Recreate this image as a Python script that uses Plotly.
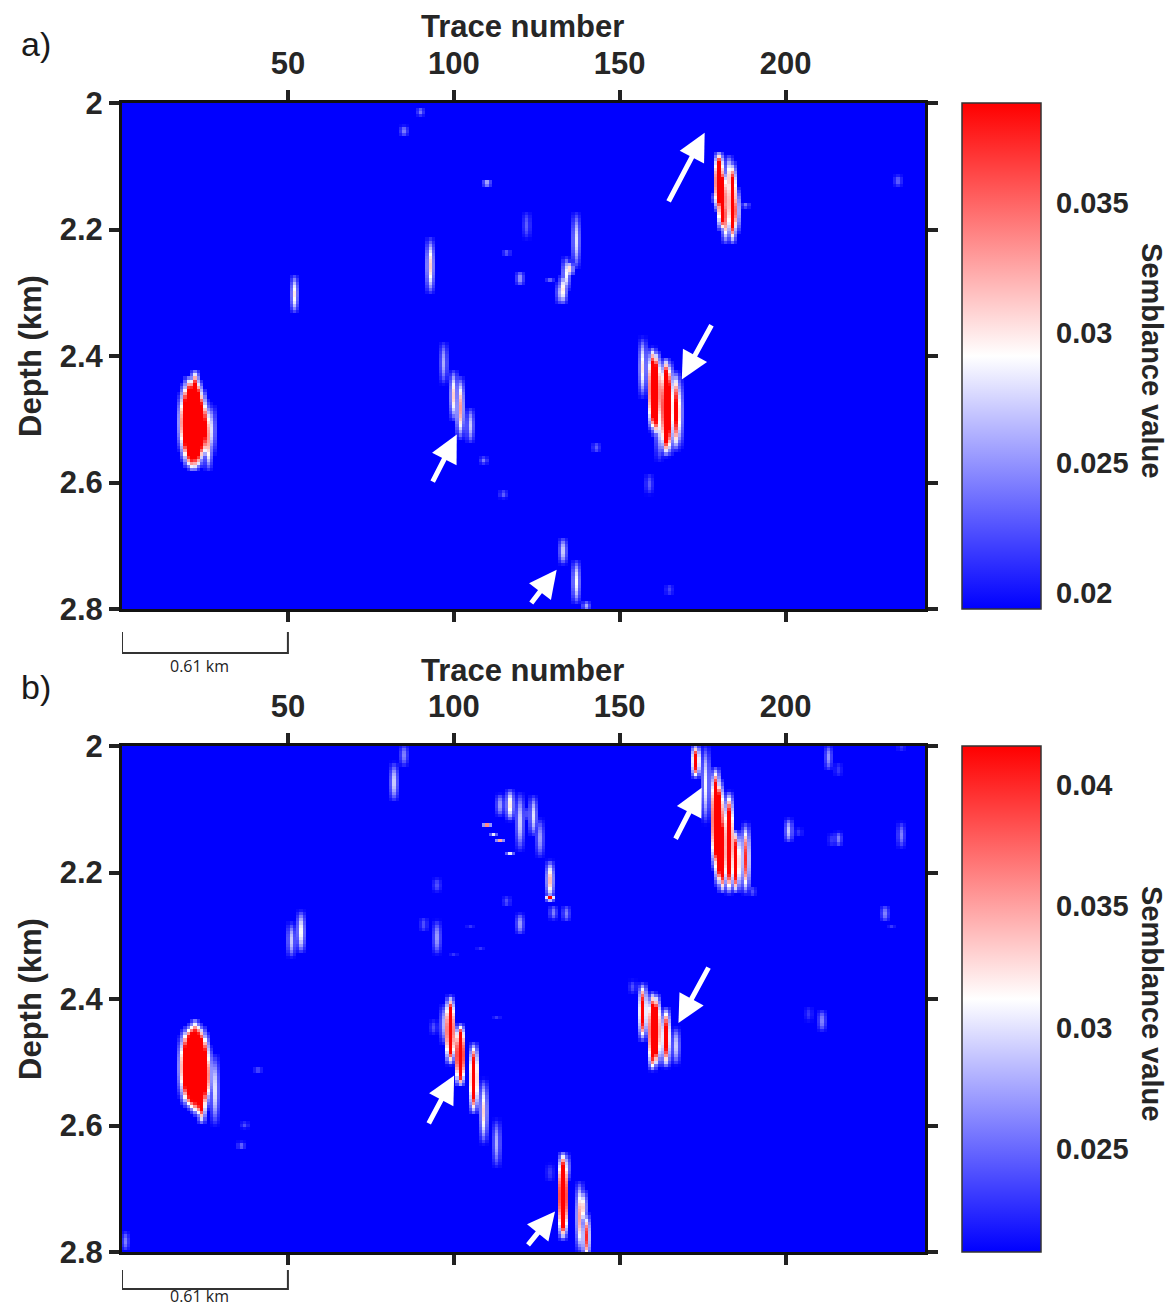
import numpy as np
import plotly.graph_objects as go

# ---------------- data ----------------
traces = np.arange(0, 243)                # trace numbers
depths = np.round(np.arange(2.0, 2.8001, 0.005), 3)  # depth samples (km)

x_ticks = [50, 100, 150, 200]
y_ticks = [2.0, 2.2, 2.4, 2.6, 2.8]
y_ticktext = ["2", "2.2", "2.4", "2.6", "2.8"]

# panel a: semblance anomalies (trace, top depth, bottom depth, peak value)
stripes_a = [
    (18, 2.455, 2.555, 0.033), (19, 2.44, 2.57, 0.048), (20, 2.43, 2.58, 0.062),
    (21, 2.43, 2.585, 0.065), (22, 2.42, 2.585, 0.065), (23, 2.435, 2.58, 0.060),
    (24, 2.45, 2.57, 0.050), (25, 2.465, 2.565, 0.040), (26, 2.47, 2.585, 0.033),
    (27, 2.475, 2.56, 0.028),
    (52, 2.27, 2.335, 0.030), (85, 2.034, 2.054, 0.024), (90, 2.006, 2.022, 0.024),
    (93, 2.21, 2.305, 0.031), (97, 2.375, 2.447, 0.026), (100, 2.42, 2.505, 0.031),
    (102, 2.43, 2.535, 0.033), (105, 2.48, 2.54, 0.027), (109, 2.558, 2.572, 0.024),
    (110, 2.122, 2.132, 0.027), (115, 2.612, 2.626, 0.023), (116, 2.23, 2.244, 0.023),
    (120, 2.265, 2.29, 0.025), (122, 2.17, 2.217, 0.023), (129, 2.275, 2.285, 0.023),
    (132, 2.28, 2.32, 0.026), (133, 2.27, 2.32, 0.030), (134, 2.242, 2.30, 0.029),
    (135, 2.25, 2.275, 0.031), (137, 2.17, 2.265, 0.028), (143, 2.535, 2.555, 0.023),
    (157, 2.368, 2.469, 0.030), (159, 2.585, 2.621, 0.023), (160, 2.384, 2.522, 0.055),
    (161, 2.39, 2.53, 0.055), (162, 2.40, 2.57, 0.030), (164, 2.40, 2.561, 0.060),
    (165, 2.405, 2.56, 0.045), (166, 2.42, 2.53, 0.029), (167, 2.422, 2.553, 0.040),
    (168, 2.43, 2.55, 0.030), (165, 2.76, 2.78, 0.022),
    (133, 2.685, 2.732, 0.027), (137, 2.72, 2.795, 0.029), (140, 2.787, 2.805, 0.026),
    (179, 2.14, 2.16, 0.026), (180, 2.075, 2.175, 0.055), (181, 2.10, 2.205, 0.055),
    (182, 2.13, 2.225, 0.035), (183, 2.08, 2.16, 0.031), (184, 2.09, 2.225, 0.050),
    (185, 2.13, 2.21, 0.035), (188, 2.155, 2.167, 0.024), (234, 2.113, 2.133, 0.023),
]

# panel b
stripes_b = [
    (18, 2.455, 2.56, 0.034), (19, 2.445, 2.57, 0.050), (20, 2.44, 2.575, 0.065),
    (21, 2.435, 2.58, 0.070), (22, 2.43, 2.585, 0.070), (23, 2.435, 2.59, 0.070),
    (24, 2.44, 2.60, 0.065), (25, 2.45, 2.58, 0.050), (26, 2.47, 2.57, 0.036),
    (28, 2.485, 2.603, 0.030),
    (1, 2.767, 2.80, 0.026), (36, 2.624, 2.64, 0.025), (37, 2.593, 2.606, 0.024),
    (41, 2.506, 2.519, 0.024), (51, 2.277, 2.337, 0.029), (54, 2.258, 2.33, 0.031),
    (82, 2.024, 2.09, 0.029), (85, 1.995, 2.034, 0.026), (91, 2.27, 2.295, 0.024),
    (94, 2.432, 2.458, 0.024), (95, 2.208, 2.232, 0.024), (95, 2.274, 2.332, 0.027),
    (97, 2.406, 2.474, 0.028), (99, 2.393, 2.506, 0.060), (100, 2.327, 2.335, 0.023),
    (102, 2.437, 2.54, 0.065), (105, 2.282, 2.29, 0.023), (106, 2.466, 2.585, 0.050),
    (108, 2.317, 2.325, 0.023), (109, 2.524, 2.632, 0.033), (110, 2.12, 2.13, 0.036),
    (112, 2.135, 2.143, 0.031), (114, 2.147, 2.155, 0.036), (114, 2.074, 2.113, 0.027),
    (113, 2.588, 2.669, 0.028), (113, 2.425, 2.435, 0.023), (116, 2.237, 2.255, 0.024),
    (117, 2.066, 2.121, 0.032), (117, 2.165, 2.173, 0.031), (120, 2.071, 2.169, 0.029),
    (120, 2.263, 2.30, 0.027), (122, 2.095, 2.12, 0.024), (124, 2.076, 2.145, 0.030),
    (126, 2.113, 2.179, 0.027), (129, 2.179, 2.245, 0.034), (129, 2.236, 2.246, 0.045),
    (130, 2.25, 2.277, 0.026), (134, 2.25, 2.28, 0.026),
    (154, 2.369, 2.393, 0.024), (157, 2.372, 2.469, 0.045), (160, 2.387, 2.516, 0.060),
    (161, 2.39, 2.51, 0.055), (164, 2.411, 2.511, 0.045), (167, 2.443, 2.506, 0.029),
    (173, 1.995, 2.053, 0.045), (176, 1.995, 2.126, 0.031), (179, 2.03, 2.20, 0.060),
    (180, 2.05, 2.225, 0.065), (181, 2.10, 2.235, 0.055), (183, 2.069, 2.237, 0.055),
    (185, 2.13, 2.235, 0.050), (188, 2.119, 2.237, 0.040), (190, 2.22, 2.24, 0.024),
    (201, 2.113, 2.155, 0.029), (204, 2.128, 2.145, 0.023), (207, 2.411, 2.437, 0.023),
    (211, 2.416, 2.453, 0.026), (213, 1.995, 2.04, 0.027), (214, 2.137, 2.16, 0.023),
    (216, 2.134, 2.16, 0.026), (216, 2.025, 2.05, 0.023), (230, 2.25, 2.28, 0.026),
    (232, 2.281, 2.289, 0.023), (235, 2.119, 2.163, 0.026), (235, 1.995, 2.008, 0.023),
    (129, 2.659, 2.69, 0.023), (133, 2.64, 2.783, 0.065), (134, 2.643, 2.69, 0.030),
    (138, 2.685, 2.805, 0.035), (139, 2.70, 2.76, 0.033), (140, 2.737, 2.815, 0.040),
]

range_a = (0.01938, 0.03885)
range_b = (0.02075, 0.0416)
cbar_ticks_a = [0.02, 0.025, 0.03, 0.035]
cbar_ticks_b = [0.025, 0.03, 0.035, 0.04]

# arrows: (head trace, head depth, tail trace, tail depth)
arrows_a = [(175.6, 2.047, 164.5, 2.158), (168.7, 2.437, 177.9, 2.349),
            (100.9, 2.524, 93.4, 2.601), (131.0, 2.738, 123.0, 2.793)]
arrows_b = [(174.7, 2.066, 166.6, 2.149), (167.7, 2.438, 177.0, 2.348),
            (100.1, 2.521, 92.2, 2.599), (130.5, 2.736, 122.0, 2.791)]

SIDE = 0.4  # fraction of a stripe's strength bleeding into adjacent traces


def build(stripes, bg):
    z = np.full((len(depths), len(traces)), bg)
    for tr, top, bot, peak in stripes:
        t = (depths - top) / (bot - top)
        m = (t >= 0) & (t <= 1)
        v = (peak - bg) * np.sin(np.pi * t[m])
        col = int(np.where(traces == tr)[0][0])
        for c, f in [(col, 1.0), (col - 1, SIDE), (col + 1, SIDE)]:
            if 0 <= c < len(traces):
                z[m, c] = np.maximum(z[m, c], bg + f * v)
    return z


z_a = build(stripes_a, range_a[0])
z_b = build(stripes_b, range_b[0])

# ---------------- figure ----------------
# page body has an 8 px margin, so the figure is 16 px smaller and offset by 8 px
OFF = 8
W, H = 1176 - 2 * OFF, 1316 - 2 * OFF
def px(p):  # page pixel from left -> paper x
    return (p - OFF) / W
def py(p):  # page pixel from top -> paper y
    return 1 - (p - OFF) / H

bwr = [[0, "rgb(0,0,255)"], [0.5, "rgb(255,255,255)"], [1, "rgb(255,0,0)"]]
TXT = "#262626"
FAM = "Liberation Sans, Arial, sans-serif"
bold = dict(family=FAM, size=31, color=TXT, weight="bold")
bold_cb = dict(family=FAM, size=29, color=TXT, weight="bold")

fig = go.Figure()

for i, (z, rng, ticks, ytop) in enumerate([(z_a, range_a, cbar_ticks_a, 103),
                                            (z_b, range_b, cbar_ticks_b, 746)]):
    xa = "x" if i == 0 else "x2"
    ya = "y" if i == 0 else "y2"
    fig.add_trace(go.Heatmap(
        x=traces, y=depths, z=z, zmin=rng[0], zmax=rng[1], colorscale=bwr,
        zsmooth=False, xaxis=xa, yaxis=ya,
        colorbar=dict(
            x=px(962), xanchor="left", xpad=0, ypad=0,
            y=py(ytop + 253), yanchor="middle",
            thicknessmode="pixels", thickness=79,
            lenmode="pixels", len=506,
            outlinecolor="#333333", outlinewidth=1.5,
            tickvals=ticks, ticktext=[f"{t:g}" for t in ticks],
            ticks="outside", ticklen=9, tickwidth=1, tickcolor="rgba(0,0,0,0)",
            tickfont=bold_cb,
        ),
    ))

xdom = [px(122), px(925)]
axis_common = dict(showline=True, linewidth=3, linecolor="#111111", mirror="allticks",
                   ticks="outside", ticklen=10, tickwidth=4, tickcolor="#222222",
                   showgrid=False, zeroline=False, tickfont=bold, automargin=False)

fig.update_layout(
    template="none",
    width=W, height=H, margin=dict(l=0, r=0, t=0, b=0, pad=0), autosize=False,
    paper_bgcolor="white", plot_bgcolor="white", showlegend=False,
    xaxis=dict(domain=xdom, range=[0, 242], side="top", tickvals=x_ticks,
               anchor="y", ticklabelstandoff=4, **axis_common),
    yaxis=dict(domain=[py(609), py(103)], range=[2.8, 2.0], tickvals=y_ticks,
               ticktext=y_ticktext, anchor="x", ticklabelstandoff=0, **axis_common),
    xaxis2=dict(domain=xdom, range=[0, 242], side="top", tickvals=x_ticks,
                anchor="y2", ticklabelstandoff=4, **axis_common),
    yaxis2=dict(domain=[py(1252), py(746)], range=[2.8, 2.0], tickvals=y_ticks,
                ticktext=y_ticktext, anchor="x2", ticklabelstandoff=0, **axis_common),
)

# small inward ticks on the right edge of each colour bar
for ticks, rng, ytop in [(cbar_ticks_a, range_a, 103), (cbar_ticks_b, range_b, 746)]:
    for t in ticks:
        yy = py(ytop + 506 * (rng[1] - t) / (rng[1] - rng[0]))
        fig.add_shape(type="line", xref="paper", yref="paper",
                      x0=px(1035), x1=px(1041), y0=yy, y1=yy,
                      line=dict(color="#333333", width=1.5))

# arrows
for arrows, xr, yr in [(arrows_a, "x", "y"), (arrows_b, "x2", "y2")]:
    for hx, hy, tx, ty in arrows:
        fig.add_annotation(x=hx, y=hy, ax=tx, ay=ty, xref=xr, yref=yr, axref=xr, ayref=yr,
                           showarrow=True, arrowhead=2, arrowsize=1.1, arrowwidth=5,
                           arrowcolor="white", text="", standoff=0)

# titles and labels
for off, lab in [(0, "a)"), (643, "b)")]:
    fig.add_annotation(x=px(522), y=py(27 + off), xref="paper", yref="paper",
                       text="Trace number", showarrow=False, font=bold,
                       xanchor="center", yanchor="middle")
    fig.add_annotation(x=px(30), y=py(356 + off), xref="paper", yref="paper",
                       text="Depth (km)", showarrow=False, font=bold, textangle=-90,
                       xanchor="center", yanchor="middle")
    fig.add_annotation(x=px(1152), y=py(360 + off), xref="paper", yref="paper",
                       text="Semblance value", showarrow=False, font=bold_cb, textangle=90,
                       xanchor="center", yanchor="middle")
    fig.add_annotation(x=px(36), y=py(44 + off), xref="paper", yref="paper",
                       text=lab, showarrow=False,
                       font=dict(family=FAM, size=34, color="#1a1a1a"),
                       xanchor="center", yanchor="middle")

# scale bars (trace 0 to 50)
for xr, ytop_px, ybot_px, ytext_px in [("x", 632, 653, 666), ("x2", 1270, 1289, 1296)]:
    fig.add_shape(type="path", xref=xr, yref="paper",
                  path=f"M 0,{py(ytop_px)} L 0,{py(ybot_px)} L 50,{py(ybot_px)} L 50,{py(ytop_px)}",
                  line=dict(color="#333333", width=2))
    fig.add_annotation(x=23.5, y=py(ytext_px), xref=xr, yref="paper", text="0.61 km",
                       showarrow=False, xanchor="center", yanchor="middle",
                       font=dict(family="Open Sans, sans-serif", size=16, color="#222222"))

fig.write_html("out.html")
